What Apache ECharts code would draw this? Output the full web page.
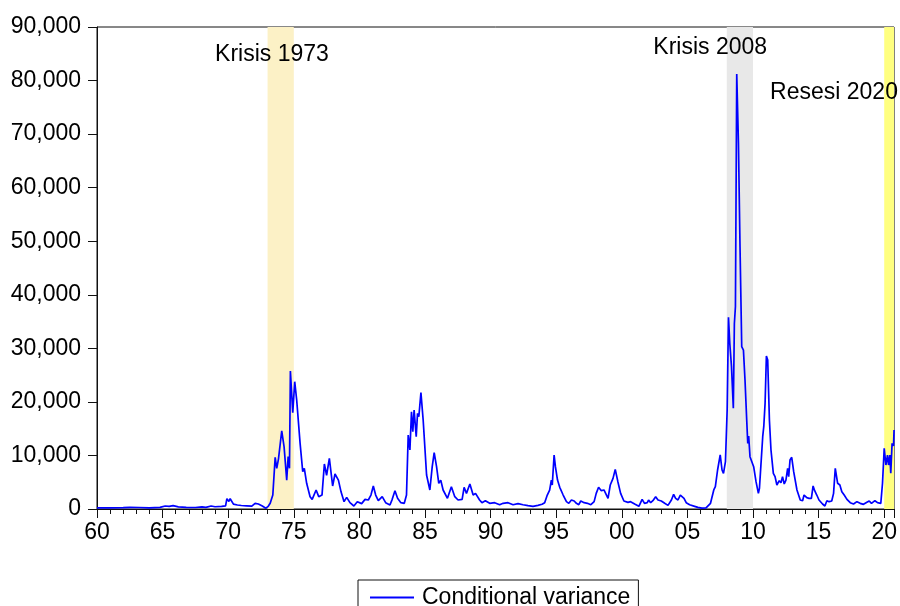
<!DOCTYPE html>
<html>
<head>
<meta charset="utf-8">
<title>Conditional variance</title>
<script src="https://cdn.jsdelivr.net/npm/echarts@6/dist/echarts.min.js"></script>
<style>
  html, body { margin: 0; padding: 0; background: #fff; }
  #chart { width: 900px; height: 606px; }
</style>
</head>
<body>
<div id="chart"></div>
<script>
  // series (decimal year, conditional variance)
  const years = [
    1960.0, 1961.0, 1962.0, 1962.5, 1963.2, 1964.0, 1964.8, 1965.2, 1965.5, 1965.8,
    1966.2, 1966.8, 1967.5, 1968.0, 1968.3, 1968.7, 1969.0, 1969.5, 1969.8, 1969.9,
    1970.05, 1970.15, 1970.4, 1970.7, 1971.0, 1971.4, 1971.8, 1972.05, 1972.3, 1972.6,
    1972.87, 1973.05, 1973.2, 1973.4, 1973.58, 1973.7, 1973.83, 1973.96, 1974.08, 1974.26,
    1974.46, 1974.57, 1974.67, 1974.74, 1974.92, 1975.07, 1975.22, 1975.48, 1975.68, 1975.8,
    1975.98, 1976.24, 1976.4, 1976.7, 1976.9, 1977.15, 1977.33, 1977.5, 1977.71, 1977.96,
    1978.14, 1978.4, 1978.6, 1978.83, 1979.03, 1979.28, 1979.58, 1979.84, 1980.17, 1980.43,
    1980.68, 1980.88, 1981.06, 1981.24, 1981.44, 1981.74, 1982.0, 1982.33, 1982.5, 1982.71,
    1982.91, 1983.16, 1983.42, 1983.59, 1983.72, 1983.85, 1983.97, 1984.07, 1984.17, 1984.33,
    1984.43, 1984.53, 1984.69, 1984.86, 1985.12, 1985.37, 1985.55, 1985.7, 1985.88, 1986.05,
    1986.2, 1986.38, 1986.71, 1987.01, 1987.27, 1987.52, 1987.83, 1987.98, 1988.16, 1988.42,
    1988.67, 1988.85, 1989.16, 1989.34, 1989.6, 1989.93, 1990.31, 1990.69, 1990.95, 1991.33,
    1991.71, 1992.09, 1992.47, 1992.85, 1993.23, 1993.61, 1993.92, 1994.12, 1994.32, 1994.5,
    1994.63, 1994.7, 1994.84, 1994.94, 1995.1, 1995.27, 1995.53, 1995.78, 1995.96, 1996.16,
    1996.37, 1996.54, 1996.72, 1996.87, 1997.13, 1997.38, 1997.64, 1997.89, 1998.05, 1998.23,
    1998.44, 1998.64, 1998.75, 1998.95, 1999.12, 1999.33, 1999.5, 1999.7, 1999.91, 2000.16,
    2000.47, 2000.67, 2000.98, 2001.3, 2001.55, 2001.73, 2001.94, 2002.04, 2002.2, 2002.37,
    2002.58, 2002.76, 2003.01, 2003.27, 2003.52, 2003.65, 2003.78, 2003.95, 2004.1, 2004.28,
    2004.46, 2004.58, 2004.74, 2004.91, 2005.17, 2005.55, 2005.8, 2006.1, 2006.42, 2006.76,
    2007.01, 2007.13, 2007.3, 2007.5, 2007.64, 2007.75, 2007.9, 2008.03, 2008.13, 2008.23,
    2008.36, 2008.5, 2008.58, 2008.66, 2008.76, 2008.89, 2009.01, 2009.14, 2009.27, 2009.39,
    2009.52, 2009.6, 2009.67, 2009.77, 2009.9, 2010.05, 2010.23, 2010.41, 2010.49, 2010.62,
    2010.74, 2010.82, 2010.92, 2011.02, 2011.12, 2011.25, 2011.37, 2011.55, 2011.68, 2011.82,
    2012.0, 2012.13, 2012.25, 2012.38, 2012.51, 2012.64, 2012.72, 2012.82, 2012.95, 2013.1,
    2013.35, 2013.6, 2013.78, 2013.89, 2014.1, 2014.27, 2014.45, 2014.58, 2014.7, 2014.86,
    2015.03, 2015.3, 2015.48, 2015.63, 2015.8, 2016.0, 2016.14, 2016.27, 2016.45, 2016.62,
    2016.77, 2016.95, 2017.16, 2017.41, 2017.66, 2017.92, 2018.17, 2018.42, 2018.68, 2018.86,
    2019.03, 2019.29, 2019.49, 2019.74, 2019.87, 2020.0, 2020.13, 2020.25, 2020.33, 2020.43,
    2020.5, 2020.6, 2020.71, 2020.75
  ];
  const variance = [
    200, 220, 250, 320, 280, 220, 300, 560, 480, 620,
    400, 320, 280, 380, 300, 560, 420, 480, 600, 1920,
    1400, 1920, 900, 750, 650, 600, 550, 1060, 930, 560,
    150, 500, 1060, 2600, 9650, 7600, 9330, 9300, 14600, 11600,
    5400, 9770, 7600, 25770, 18000, 23770, 20350, 12260, 6970, 7600,
    4800, 2300, 1800, 3550, 2300, 2600, 8400, 6300, 9460, 4300,
    6530, 5400, 3200, 1370, 2180, 1180, 560, 1370, 1000, 1800,
    1680, 2610, 4300, 2610, 1550, 2300, 1180, 740, 1800, 3420,
    1990, 1180, 1060, 2610, 13820, 11020, 18170, 14440, 18480, 13500,
    17850, 17230, 21720, 16610, 6350, 3550, 7910, 10520, 7910, 4800,
    5400, 3550, 1990, 4170, 2300, 1680, 1800, 4050, 2920, 4670,
    2610, 2920, 1680, 1180, 1550, 1060, 1180, 800, 1060, 1180,
    800, 990, 800, 620, 500, 680, 880, 1180, 2610, 3540,
    5400, 4480, 10080, 7900, 5400, 4050, 2610, 1370, 1060, 1680,
    1490, 1060, 800, 1490, 1180, 1060, 800, 1370, 2920, 4050,
    3420, 3550, 3860, 1990, 4480, 5720, 7400, 5100, 2920, 1490,
    1240, 1370, 930, 500, 1800, 1060, 1180, 1680, 1180, 1550,
    2300, 1680, 1490, 1060, 680, 500, 1680, 2730, 1990, 1680,
    2610, 2920, 1990, 1180, 800, 500, 300, 150, 200, 1060,
    3550, 4170, 7280, 10100, 7280, 6660, 8840, 18480, 35790, 30940,
    26600, 18800, 34640, 37770, 81220, 68280, 48970, 30300, 29680, 24080,
    16610, 12260, 13620, 9770, 9460, 7900, 5100, 2920, 3860, 3860,
    13500, 15370, 19730, 28570, 27820, 16610, 11020, 6660, 6040, 4480,
    5290, 4900, 6040, 4670, 5400, 7590, 6040, 9150, 9650, 6970,
    3550, 1680, 1550, 2610, 2120, 1990, 1990, 4300, 3420, 2610,
    1680, 930, 560, 1550, 1370, 1490, 2920, 7590, 4800, 4480,
    3240, 2610, 1800, 1180, 930, 1370, 1060, 870, 1240, 1490,
    1060, 1550, 1180, 1060, 4800, 11330, 8210, 10080, 8210, 10080,
    6660, 12260, 11770, 14750
  ];

  // shaded crisis periods
  const bandStart = [1973, 2008, 2020];
  const bandEnd = [1975, 2010, 2020.75];
  const bandColors = ['#FCF1C6', '#E8E8E8', '#FFFF80'];

  // annotations (left edge year, vertical value)
  const annoText = ['Krisis 1973', 'Krisis 2008', 'Resesi 2020'];
  const annoX = [1969.0, 2002.4, 2011.3];
  const annoY = [84900, 86200, 77800];

  const font = "'Liberation Sans', Arial, sans-serif";
  const fs = 23;
  const seriesData = years.map((y, i) => [y, variance[i]]);

  const chart = echarts.init(document.getElementById('chart'));
  chart.setOption({
    animation: false,
    textStyle: { fontFamily: font },
    grid: {
      left: 97, right: 2, top: 27, bottom: 97,
      show: true, borderColor: '#111', borderWidth: 1
    },
    legend: {
      data: [{ name: 'Conditional variance', icon: 'rect' }],
      left: 358, top: 580,
      borderColor: '#111', borderWidth: 1,
      padding: [6, 8, 6, 12],
      itemWidth: 44, itemHeight: 2,
      textStyle: { fontSize: fs, color: '#000', fontFamily: font, padding: [0, 0, 0, 3] }
    },
    xAxis: {
      type: 'value',
      min: 1960, max: 2020.75, interval: 5,
      axisLine: { show: true, lineStyle: { color: '#111', width: 1 } },
      axisTick: { show: true, length: 9, lineStyle: { color: '#111' } },
      minorTick: { show: true, splitNumber: 5, length: 5, lineStyle: { color: '#111' } },
      splitLine: { show: false },
      axisLabel: {
        fontSize: fs, color: '#000', margin: 12,
        showMaxLabel: false,
        formatter: v => (v % 5 === 0 ? String(v % 100).padStart(2, '0') : '')
      }
    },
    yAxis: {
      type: 'value',
      min: 0, max: 90000, interval: 10000,
      axisLine: { show: true, lineStyle: { color: '#111', width: 1 } },
      axisTick: { show: true, length: 9, lineStyle: { color: '#111' } },
      splitLine: { show: false },
      axisLabel: {
        fontSize: fs, color: '#000', margin: 16,
        formatter: v => v.toString().replace(/\B(?=(\d{3})+(?!\d))/g, ',')
      }
    },
    series: [{
      name: 'Conditional variance',
      type: 'line',
      data: seriesData,
      symbol: 'none',
      showSymbol: false,
      lineStyle: { color: '#0000FF', width: 1.7 },
      itemStyle: { color: '#0000FF' },
      markArea: {
        silent: true,
        data: bandStart.map((s, i) => [
          { xAxis: s, itemStyle: { color: bandColors[i] } },
          { xAxis: bandEnd[i] }
        ])
      },
      markPoint: {
        silent: true,
        symbol: 'circle',
        symbolSize: 0,
        data: annoText.map((t, i) => ({
          coord: [annoX[i], annoY[i]],
          label: {
            show: true, formatter: t, position: 'right', distance: 0,
            fontSize: fs, color: '#000', fontFamily: font
          }
        }))
      }
    }]
  });
</script>
</body>
</html>
